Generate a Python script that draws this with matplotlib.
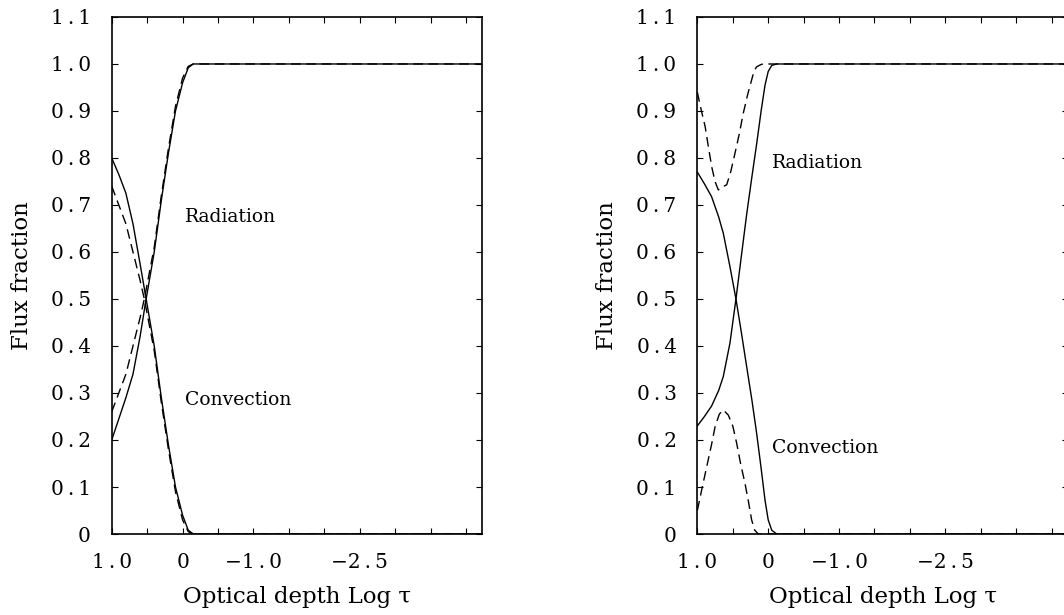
import matplotlib
matplotlib.use("Agg")
import matplotlib.pyplot as plt

plt.rcParams['font.family'] = ['DejaVu Serif']

# log tau, plotted left to right from deep to shallow layers
x_lim = (1.0, -4.23)
x_ticks = [1.0, 0.5, 0.0, -0.5, -1.0, -1.5, -2.0, -2.5, -3.0, -3.5, -4.0]
x_tick_labels = ["1.0", "", "0", "", "\u22121.0", "", "", "\u22122.5", "", "", ""]
y_ticks = [0.0, 0.1, 0.2, 0.3, 0.4, 0.5, 0.6, 0.7, 0.8, 0.9, 1.0, 1.1]
y_tick_labels = ["0", "0.1", "0.2", "0.3", "0.4", "0.5", "0.6", "0.7", "0.8",
                 "0.9", "1.0", "1.1"]

# left panel
logtau_a = [1.0, 0.9, 0.8, 0.7, 0.6, 0.52, 0.4, 0.3, 0.2, 0.1, 0.0, -0.08,
            -0.15, -0.25, -4.4]
rad_a = [0.20, 0.245, 0.29, 0.34, 0.42, 0.495, 0.60, 0.71, 0.81, 0.90, 0.96,
         0.992, 1.0, 1.0, 1.0]
conv_a = [0.80, 0.765, 0.725, 0.66, 0.575, 0.505, 0.40, 0.29, 0.19, 0.10,
          0.04, 0.008, 0.0, 0.0, 0.0]
logtau_a_d = [1.0, 0.9, 0.8, 0.7, 0.6, 0.54, 0.4, 0.3, 0.2, 0.1, 0.0, -0.08,
              -0.15, -0.25, -4.4]
rad_a_d = [0.26, 0.30, 0.34, 0.40, 0.46, 0.50, 0.61, 0.72, 0.82, 0.91, 0.97,
           0.995, 1.0, 1.0, 1.0]
conv_a_d = [0.74, 0.70, 0.66, 0.60, 0.54, 0.50, 0.39, 0.28, 0.18, 0.09, 0.03,
            0.005, 0.0, 0.0, 0.0]

# right panel
logtau_b = [1.0, 0.9, 0.8, 0.7, 0.634, 0.54, 0.455, 0.38, 0.304, 0.23, 0.163,
            0.1, 0.045, 0.0, -0.05, -0.12, -4.4]
rad_b = [0.23, 0.25, 0.272, 0.305, 0.335, 0.406, 0.50, 0.59, 0.68, 0.76,
         0.83, 0.90, 0.955, 0.984, 0.997, 1.0, 1.0]
conv_b = [0.77, 0.745, 0.718, 0.675, 0.64, 0.569, 0.50, 0.43, 0.356, 0.285,
          0.214, 0.14, 0.072, 0.03, 0.008, 0.0, 0.0]
logtau_rad_b_d = [1.0, 0.95, 0.89, 0.84, 0.797, 0.75, 0.704, 0.65, 0.586,
                  0.53, 0.469, 0.41, 0.352, 0.29, 0.234, 0.2, 0.163, 0.1,
                  0.07, -4.4]
rad_b_d = [0.94, 0.905, 0.867, 0.82, 0.781, 0.75, 0.732, 0.738, 0.743, 0.77,
           0.81, 0.85, 0.895, 0.935, 0.966, 0.985, 0.994, 0.999, 1.0, 1.0]
logtau_conv_b_d = [1.0, 0.93, 0.868, 0.8, 0.75, 0.69, 0.634, 0.563, 0.5,
                   0.445, 0.39, 0.328, 0.28, 0.234, 0.19, 0.14, -4.4]
conv_b_d = [0.05, 0.10, 0.143, 0.19, 0.228, 0.255, 0.264, 0.253, 0.23, 0.193,
            0.15, 0.108, 0.07, 0.03, 0.008, 0.0, 0.0]


def spaced(s):
    # wide letter spacing around the decimal point
    return s.replace(".", "\u2009.\u2009")


def setup(ax):
    ax.set_xlim(*x_lim)
    ax.set_ylim(0, 1.1)
    ax.set_xticks(x_ticks, [spaced(t) for t in x_tick_labels])
    ax.set_yticks(y_ticks, [spaced(t) for t in y_tick_labels])
    ax.tick_params(direction='in', top=True, right=True, length=4,
                   width=0.8, labelsize=14.5)
    ax.tick_params(axis='y', pad=15)
    ax.tick_params(axis='x', pad=14)
    for s in ax.spines.values():
        s.set_linewidth(1.2)
    ax.set_xlabel("Optical depth Log \u03c4", fontsize=16.5, labelpad=10)
    ax.set_ylabel("Flux fraction", fontsize=16.5, labelpad=13)


fig = plt.figure(figsize=(10.64, 6.15), dpi=100)
ax1 = fig.add_axes([0.105, 0.1317, 0.3483, 0.8407])
ax2 = fig.add_axes([0.6554, 0.1317, 0.3483, 0.8407])

kw = dict(color='black', lw=1.0)
dkw = dict(color='black', lw=1.0, dashes=(7, 4))

ax1.plot(logtau_a, rad_a, **kw)
ax1.plot(logtau_a, conv_a, **kw)
ax1.plot(logtau_a_d, rad_a_d, **dkw)
ax1.plot(logtau_a_d, conv_a_d, **dkw)
ax1.text(-0.035, 0.675, "Radiation", fontsize=13.5, va='center')
ax1.text(-0.035, 0.285, "Convection", fontsize=13.5, va='center')

ax2.plot(logtau_b, rad_b, **kw)
ax2.plot(logtau_b, conv_b, **kw)
ax2.plot(logtau_rad_b_d, rad_b_d, **dkw)
ax2.plot(logtau_conv_b_d, conv_b_d, **dkw)
ax2.text(-0.048, 0.789, "Radiation", fontsize=13.5, va='center')
ax2.text(-0.048, 0.182, "Convection", fontsize=13.5, va='center')

for ax in (ax1, ax2):
    setup(ax)

fig.savefig("out.png", dpi=100)
